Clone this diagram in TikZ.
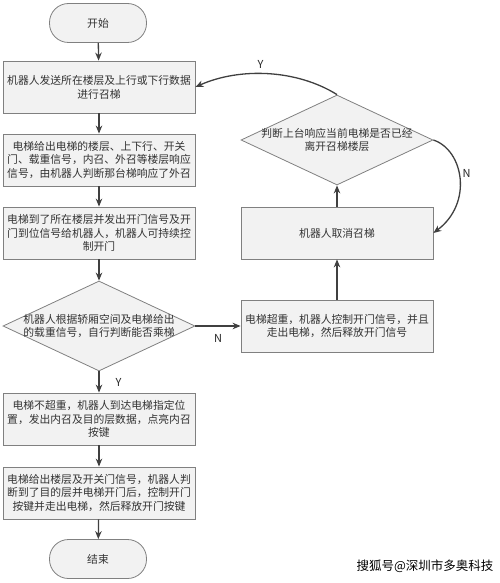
\documentclass[tikz,border=0pt]{standalone}
\usepackage{fontspec}
\newfontfamily\cjk{Noto Sans CJK SC}
\usepackage{tikz}
\usetikzlibrary{arrows.meta,shapes.geometric,positioning}

\begin{document}
\begin{tikzpicture}[x=1pt, y=-1pt, ->, >={Stealth[length=8pt,width=6.5pt]}, line width=1.3pt, draw=black!75, text=black!80, font=\cjk\fontsize{10.8}{13.8}\selectfont]
				\tikzstyle{caja}=[rectangle, draw=black!50, fill=black!5, line width=0.8pt, minimum width=192, minimum height=52, align=center, inner sep=2pt]
				\tikzstyle{rombo}=[diamond, draw=black!50, fill=black!5, line width=0.8pt, minimum width=192, minimum height=90, inner sep=0pt]
				\tikzstyle{terminal}=[rectangle, rounded corners=19pt, draw=black!50, fill=black!5, line width=0.8pt, minimum width=97, minimum height=39]
				\tikzstyle{etiq}=[inner sep=0pt, font=\cjk\fontsize{11}{13}\selectfont, text=black!85]
				\useasboundingbox (0,0) rectangle (500,583);

				%NODOS
				\node[terminal]		(n0) at (98,23)		{开始};
				\node[caja]		(n1) at (99,87)		{机器人发送所在楼层及上行或下行数据\\进行召梯};
				\node[caja]		(n2) at (99,160)	{电梯给出电梯的楼层、上下行、开关\\门、载重信号，内召、外召等楼层响应\\信号，由机器人判断那台梯响应了外召};
				\node[caja]		(n3) at (99,233)	{电梯到了所在楼层并发出开门信号及开\\门到位信号给机器人，机器人可持续控\\制开门};
				\node[rombo]		(n4) at (99,326)	[label={[align=center]center:机器人根据轿厢空间及电梯给出\\的载重信号，自行判断能否乘梯}] {};
				\node[caja]		(n5) at (99,419)	{电梯不超重，机器人到达电梯指定位\\置，发出内召及目的层数据，点亮内召\\按键};
				\node[caja]		(n6) at (99,493)	{电梯给出楼层及开关门信号，机器人判\\断到了目的层并电梯开门后，控制开门\\按键并走出电梯，然后释放开门按键};
				\node[terminal]		(n7) at (98,559)	{结束};

				\node[caja]		(n8) at (337,326)	{电梯超重，机器人控制开门信号，并且\\走出电梯，然后释放开门信号};
				\node[caja]		(n9) at (337,233)	{机器人取消召梯};
				\node[rombo]		(n10) at (337,140)	[label={[align=center]center:判断上台响应当前电梯是否已经\\离开召梯楼层}] {};

				\node[inner sep=0pt, text=black, font=\cjk\fontsize{12.5}{14}\selectfont]	(wm) at (425,566)	{搜狐号@深圳市多奥科技};

				%FLECHAS
				\path
					(n0)	edge					(n1)
					(n1)	edge					(n2)
					(n2)	edge					(n3)
					(n3)	edge					(n4)
					(n4)	edge	node [etiq, right=16pt]	{Y}	(n5)
					(n5)	edge					(n6)
					(n6)	edge					(n7)
					(n4)	edge	node [etiq, below=8pt]	{N}	(n8)
					(n8)	edge					(n9)
					(n9)	edge					(n10);
				\draw (n10.north) .. controls +(-40,-25) and +(45,-20) .. node [etiq, pos=0.55, above=5pt] {Y} (n1.east);
				\draw (n10.east) .. controls +(30,10) and +(40,-30) .. node [etiq, pos=0.45, right=3pt] {N} (n9.east);
			\end{tikzpicture}
\end{document}
